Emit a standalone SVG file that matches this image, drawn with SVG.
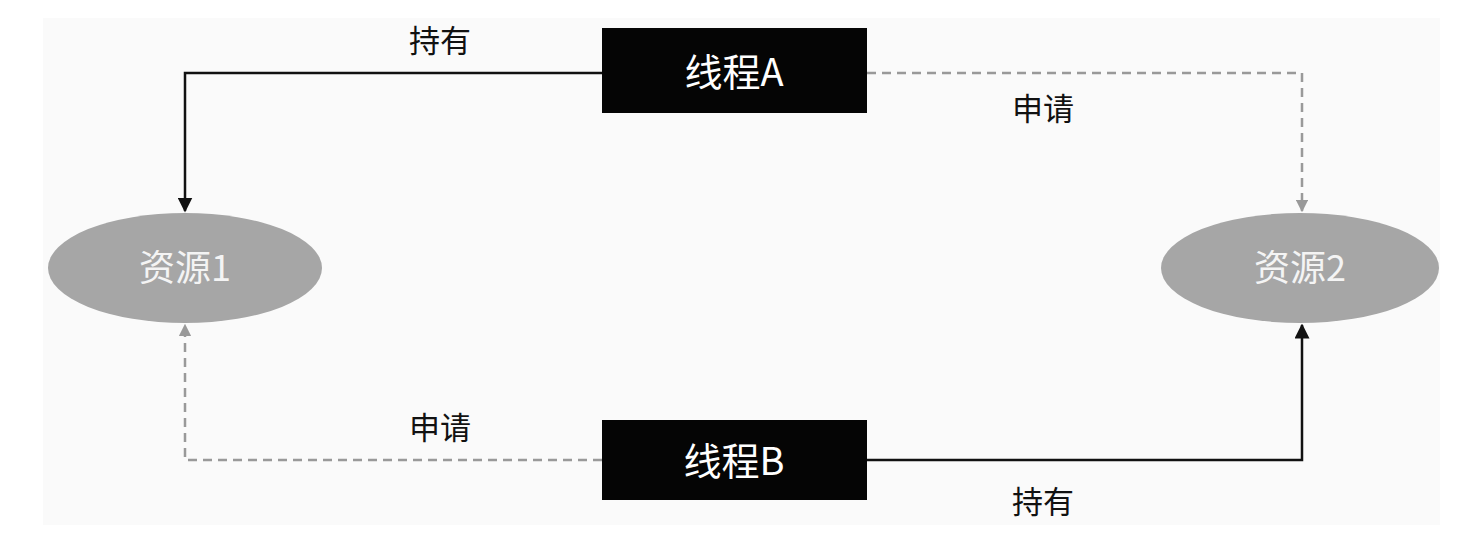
<svg xmlns="http://www.w3.org/2000/svg" width="1477" height="558" viewBox="0 0 1477 558">
<style>
text{font-family:"Noto Sans CJK SC","Liberation Sans",sans-serif;text-anchor:middle}
.lbl{font-size:31px;fill:#111}
.box{fill:#050505}
.bt{font-size:38px;fill:#fff}
.ell{fill:#a6a6a6}
.et{font-size:36px;fill:#f4f4f4}
.solid{fill:none;stroke:#111;stroke-width:2.5}
.dash{fill:none;stroke:#999;stroke-width:2.5;stroke-dasharray:9 6}
</style>
<defs>
<marker id="ab" viewBox="0 0 10 10" refX="9" refY="5" markerWidth="6" markerHeight="6" orient="auto"><path d="M0,0L10,5L0,10z" fill="#111"/></marker>
<marker id="ag" viewBox="0 0 10 10" refX="9" refY="5" markerWidth="5" markerHeight="5" orient="auto"><path d="M0,0L10,5L0,10z" fill="#999"/></marker>
</defs>
<rect width="1477" height="558" fill="#fff"/>
<rect x="43" y="18" width="1397" height="507" fill="#fafafa"/>
<g id="connectors">
<path class="solid" d="M602,73H185V211" marker-end="url(#ab)"/>
<path class="dash" d="M867,73H1302V211" marker-end="url(#ag)"/>
<path class="dash" d="M602,460H185V325" marker-end="url(#ag)"/>
<path class="solid" d="M867,460H1302V325" marker-end="url(#ab)"/>
<text class="lbl" x="440" y="52">持有</text>
<text class="lbl" x="1043" y="120">申请</text>
<text class="lbl" x="440" y="439">申请</text>
<text class="lbl" x="1043" y="513">持有</text>
</g>
<g id="threadA"><rect class="box" x="602" y="28" width="265" height="85"/><text class="bt" x="734" y="86">线程A</text></g>
<g id="threadB"><rect class="box" x="602" y="420" width="265" height="80"/><text class="bt" x="734" y="475">线程B</text></g>
<g id="res1"><ellipse class="ell" cx="185" cy="268" rx="137" ry="55"/><text class="et" x="185" y="281">资源1</text></g>
<g id="res2"><ellipse class="ell" cx="1300" cy="268" rx="139" ry="55"/><text class="et" x="1300" y="281">资源2</text></g>
</svg>
